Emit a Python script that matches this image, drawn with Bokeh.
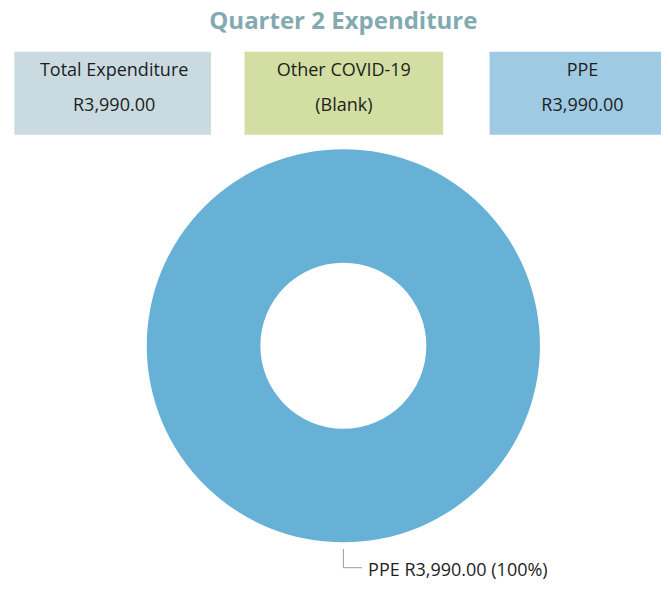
import numpy as np
from bokeh.plotting import figure
from bokeh.models import Range1d, ColumnDataSource
from bokeh.core.properties import value
from bokeh.embed import file_html
from bokeh.resources import INLINE

# ---- data ----
title_text = "Quarter 2 Expenditure"
card_titles = ["Total Expenditure", "Other COVID-19", "PPE"]
card_values = ["R3,990.00", "(Blank)", "R3,990.00"]
card_colors = ["#c9dbe0", "#d3dea2", "#9ecbe3"]
slice_names = ["PPE"]
slice_values = [3990.0]
slice_colors = ["#67b1d6"]

FONT = "Open Sans"

p = figure(width=661, height=582, output_backend="svg", toolbar_location=None,
           x_range=Range1d(0, 669), y_range=Range1d(590, 0),
           min_border=0, outline_line_color=None)
p.axis.visible = False
p.grid.visible = False
p.background_fill_color = "white"

# title
p.text(x=[347], y=[19], text=[title_text], text_font=value(FONT),
       text_font_size="24px", text_font_style="bold", text_color="#82aab0",
       text_align="center", text_baseline="middle")

# cards
lefts = [14, 247, 495]
rights = [213, 448, 683]
p.quad(left=lefts, right=rights, top=[52, 52, 52], bottom=[136, 136, 136],
       fill_color=card_colors, line_color=None)
cx = [115, 347.5, 589]
p.text(x=cx, y=[69] * 3, text=card_titles, text_font=value(FONT),
       text_font_size="18px", text_color="#1e1e1e",
       text_align="center", text_baseline="middle")
p.text(x=cx, y=[105] * 3, text=card_values, text_font=value(FONT),
       text_font_size="18px", text_color="#1e1e1e",
       text_align="center", text_baseline="middle")

# donut
vals = np.array(slice_values)
total = vals.sum()
frac = vals / total
ends = np.cumsum(frac) * 2 * np.pi
starts = ends - frac * 2 * np.pi
src = ColumnDataSource(dict(start=np.pi / 2 - starts, end=np.pi / 2 - ends,
                            color=slice_colors, name=slice_names))
if len(vals) == 1:
    p.annulus(x=347, y=350, inner_radius=84, outer_radius=199,
              fill_color=slice_colors[0], line_color=None)
else:
    p.annular_wedge(x=347, y=350, inner_radius=84, outer_radius=199,
                    start_angle="end", end_angle="start", color="color",
                    line_color=None, source=src)

# label
labels = [f"{n} R{v:,.2f} ({f*100:.0f}%)" for n, v, f in zip(slice_names, slice_values, frac)]
p.line(x=[347, 347, 366], y=[556, 575, 575], line_color="#9a9a9a", line_width=1)
p.text(x=[372], y=[576], text=labels, text_font=value(FONT),
       text_font_size="18px", text_color="#1e1e1e",
       text_align="left", text_baseline="middle")

open("out.html", "w").write(file_html(p, INLINE))
